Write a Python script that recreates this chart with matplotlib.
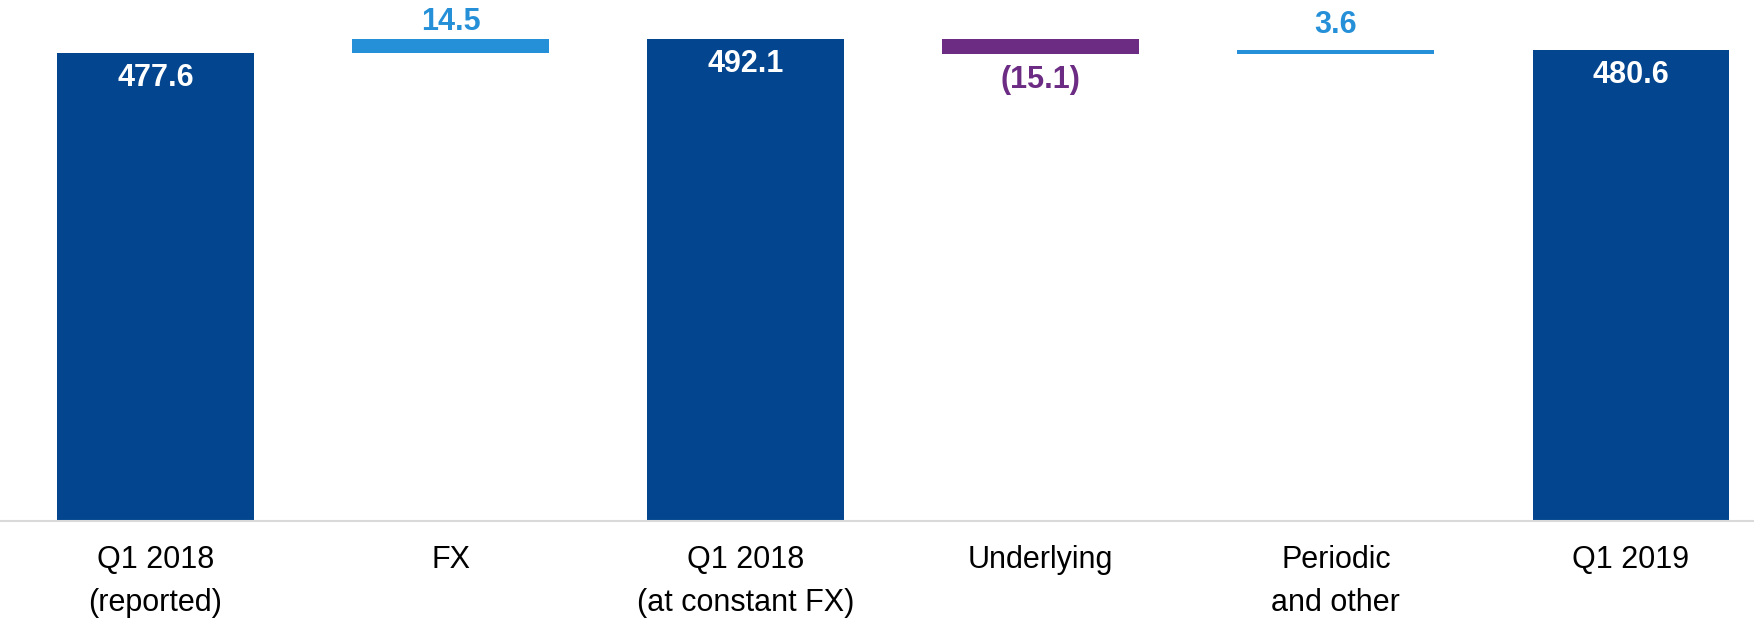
import matplotlib
matplotlib.use("Agg")
import matplotlib.pyplot as plt
import numpy as np

plt.rcParams["font.family"] = ["Liberation Sans", "DejaVu Sans"]

CATEGORIES = ["Q1 2018\n(reported)", "FX", "Q1 2018\n(at constant FX)",
              "Underlying", "Periodic\nand other", "Q1 2019"]
VALUES = [477.6, 14.5, 492.1, -15.1, 3.6, 480.6]
KINDS = ["total", "delta", "total", "delta", "delta", "total"]
LABELS = ["477.6", "14.5", "492.1", "(15.1)", "3.6", "480.6"]

DARK_BLUE = "#03468F"
LIGHT_BLUE = "#2590D8"
PURPLE = "#6C2C84"

# label offsets in points (style only)
LABEL_OFFSETS = [-18, 12, -18, -19, 18, -18]


def main():
    fig = plt.figure(figsize=(17.54, 6.18), dpi=100)
    ax = fig.add_axes([0.0, 0.157, 1.0, 0.843])

    x = np.arange(len(CATEGORIES))
    running = 0.0
    for i, (val, kind, lab) in enumerate(zip(VALUES, KINDS, LABELS)):
        if kind == "total":
            bottom, height = 0.0, val
            running = val
            color = DARK_BLUE
        else:
            bottom = running if val >= 0 else running + val
            height = abs(val)
            color = LIGHT_BLUE if val >= 0 else PURPLE
            running = running + val
        ax.bar(x[i], height, bottom=bottom, width=0.667, color=color, zorder=2)

        top = bottom + height
        if kind == "total":
            anchor, tcolor = top, "white"
        elif val >= 0:
            anchor, tcolor = top, LIGHT_BLUE
        else:
            anchor, tcolor = bottom, PURPLE
        ax.annotate(lab, (x[i], anchor), xytext=(0, LABEL_OFFSETS[i]),
                    textcoords="offset points", ha="center", va="center",
                    color=tcolor, fontsize=22, fontweight="bold")

    ax.set_xlim(-0.527, 5.417)
    ax.set_ylim(0, 532)
    ax.set_xticks(x)
    ax.set_xticklabels(CATEGORIES, fontsize=22, linespacing=1.6)
    ax.tick_params(axis="x", length=0, pad=17)
    ax.set_yticks([])
    for side in ["top", "right", "left"]:
        ax.spines[side].set_visible(False)
    ax.spines["bottom"].set_color("#D9D9D9")
    ax.spines["bottom"].set_linewidth(1.5)

    fig.savefig("out.png", dpi=100)
    plt.close(fig)


if __name__ == "__main__":
    main()
